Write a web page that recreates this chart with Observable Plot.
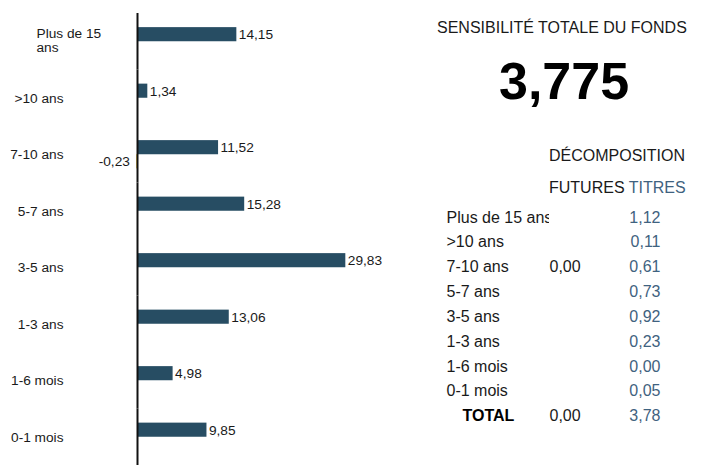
<!DOCTYPE html>
<html><head><meta charset="utf-8">
<script src="https://cdn.jsdelivr.net/npm/d3@7"></script>
<script src="https://cdn.jsdelivr.net/npm/@observablehq/plot@0.6"></script>
<style>
body{margin:0;background:#fff;font-family:'Liberation Sans',Arial,sans-serif;color:#1a1a1a}
#wrap{position:relative;width:722px;height:465px;overflow:hidden;background:#fff}
.abs{position:absolute;white-space:nowrap}
</style></head><body><div id="wrap"></div>
<script>
// ---- data ----
const categories = ["Plus de 15 ans", ">10 ans", "7-10 ans", "5-7 ans", "3-5 ans", "1-3 ans", "1-6 mois", "0-1 mois"];
const seriesNames = ["Titres", "Futures"];
const titres = [14.15, 1.34, 11.52, 15.28, 29.83, 13.06, 4.98, 9.85];
const futures = [null, null, -0.23, null, null, null, null, null];
const tableTitres = [1.12, 0.11, 0.61, 0.73, 0.92, 0.23, 0.00, 0.05];
const tableFutures = [null, null, 0.00, null, null, null, null, null];
const totalLabel = "TOTAL";
const totalFutures = 0.00;
const totalTitres = 3.78;
const sensiTotale = 3.775;
const headerTitle = "SENSIBILITÉ TOTALE DU FONDS";
const headerDecomp = "DÉCOMPOSITION";
const colFutures = "FUTURES";
const colTitres = "TITRES";

// ---- helpers ----
const fr = d3.formatLocale({decimal: ",", thousands: " ", grouping: [3], currency: ["", " €"], minus: "-"});
const fmt2 = fr.format(".2f");
const fmt3 = fr.format(".3f");
const FONT = "'Liberation Sans', Arial, sans-serif";
const DARK = "#274d63", GOLD = "#d9a400", BLUE = "#3f6280", INK = "#1a1a1a";

const rows = categories.flatMap((c, i) => [
  {cat: c, series: "Titres", value: titres[i]},
  {cat: c, series: "Futures", value: futures[i]}
]).filter(d => d.value != null);

const wrap = document.getElementById("wrap");

// ---- bar chart ----
const chart = Plot.plot({
  width: 430, height: 465,
  marginLeft: 138, marginRight: 14, marginTop: 13, marginBottom: 0,
  style: {fontFamily: FONT, fontSize: "13.7px", background: "transparent", overflow: "visible"},
  x: {domain: [0, 40], axis: null},
  fy: {domain: categories, padding: 0, round: false, axis: null},
  y: {domain: seriesNames, paddingInner: 0, paddingOuter: 1, round: false, axis: null},
  color: {domain: seriesNames, range: [DARK, GOLD]},
  marks: [
    Plot.barX(rows, {fy: "cat", y: "series", x: "value", fill: "series"}),
    Plot.ruleX([0], {stroke: "#111", strokeWidth: 2, dx: -1}),
    Plot.text(rows.filter(d => d.value >= 0), {fy: "cat", y: "series", x: "value", text: d => fmt2(d.value), textAnchor: "start", dx: 2, fill: INK}),
    Plot.text(rows.filter(d => d.value < 0), {fy: "cat", y: "series", x: "value", text: d => fmt2(d.value), textAnchor: "end", dx: -7, fill: INK}),
    Plot.text(categories.slice(1), {fy: d => d, text: d => d, frameAnchor: "left", textAnchor: "end", dx: -75, fill: INK}),
    Plot.text(categories.slice(0, 1), {fy: d => d, text: d => d, frameAnchor: "left", textAnchor: "start", dx: -102, dy: -1, lineWidth: 5.2, lineHeight: 1.0, fill: INK})
  ]
});
chart.style.position = "absolute"; chart.style.left = "0px"; chart.style.top = "0px";
wrap.appendChild(chart);

// ---- headers ----
function addDiv(text, css) {
  const d = document.createElement("div");
  d.className = "abs"; d.textContent = text;
  Object.assign(d.style, css);
  wrap.appendChild(d);
  return d;
}
addDiv(headerTitle, {left: "437px", top: "20px", fontSize: "16px", lineHeight: "16px"});
addDiv(fmt3(sensiTotale), {left: "499px", top: "55px", fontSize: "52px", lineHeight: "52px", fontWeight: "bold", color: "#000"});
addDiv(headerDecomp, {left: "549px", top: "147.5px", fontSize: "16px", lineHeight: "16px"});
const h = addDiv(colFutures + " ", {left: "549px", top: "179.5px", fontSize: "16px", lineHeight: "16px"});
const s = document.createElement("span"); s.textContent = colTitres; s.style.color = BLUE; h.appendChild(s);

// ---- table ----
const rowLabels = [...categories, totalLabel];
const allFut = [...tableFutures, totalFutures];
const allTit = [...tableTitres, totalTitres];
const tableRows = rowLabels.map((l, i) => ({label: l, fut: allFut[i], tit: allTit[i]}));
const yTable = {type: "point", domain: rowLabels, range: [217, 415.5], padding: 0, round: false, axis: null};

const labBox = document.createElement("div");
Object.assign(labBox.style, {position: "absolute", left: "430px", top: "0px", width: "119px", height: "465px", overflow: "hidden"});
wrap.appendChild(labBox);
const tLabels = Plot.plot({
  width: 119, height: 465, margin: 0,
  style: {fontFamily: FONT, fontSize: "16px", background: "transparent"},
  y: yTable,
  marks: [
    Plot.text(categories, {y: d => d, text: d => d, frameAnchor: "left", textAnchor: "start", dx: 16, fill: INK}),
    Plot.text([totalLabel], {y: d => d, text: d => d, frameAnchor: "left", textAnchor: "start", dx: 32, fontWeight: "bold", fill: "#000"})
  ]
});
labBox.appendChild(tLabels);

const tValues = Plot.plot({
  width: 173, height: 465, margin: 0,
  style: {fontFamily: FONT, fontSize: "16px", background: "transparent"},
  y: yTable,
  marks: [
    Plot.text(tableRows.filter(d => d.fut != null), {y: "label", text: d => fmt2(d.fut), frameAnchor: "left", textAnchor: "start", dx: 0, fill: INK}),
    Plot.text(tableRows, {y: "label", text: d => fmt2(d.tit), frameAnchor: "left", textAnchor: "end", dx: 111, fill: BLUE})
  ]
});
tValues.style.position = "absolute"; tValues.style.left = "549px"; tValues.style.top = "0px";
wrap.appendChild(tValues);
</script></body></html>
